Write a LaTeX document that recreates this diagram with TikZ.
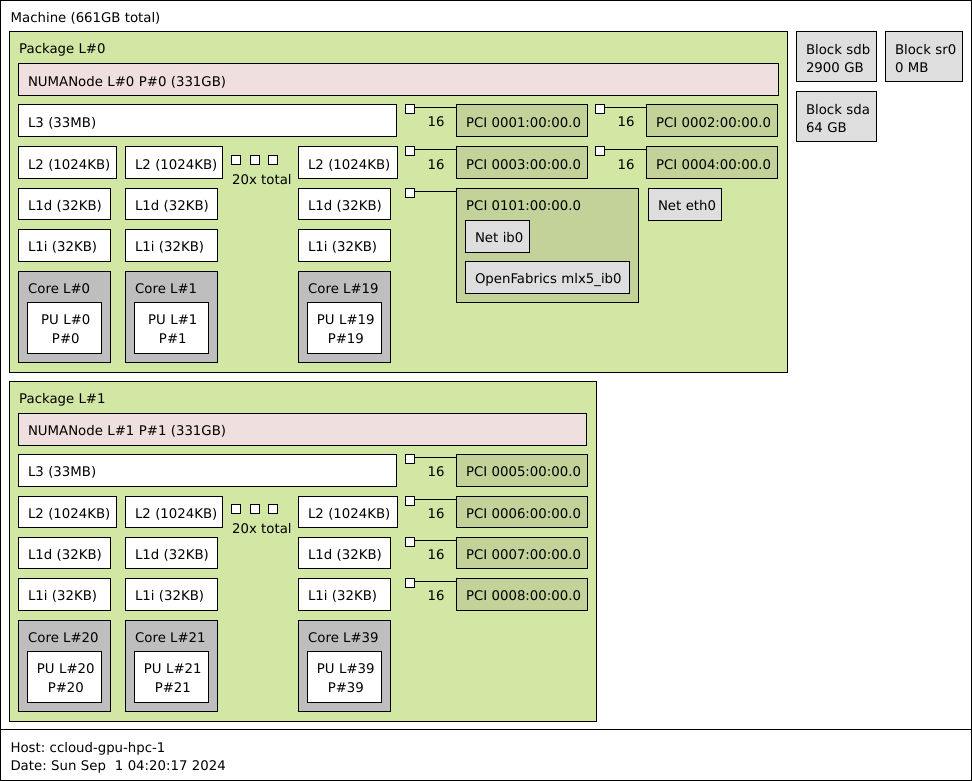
\documentclass[tikz,border=0pt]{standalone}
\usepackage{fontspec}
\setmainfont{DejaVu Sans}
\usetikzlibrary{calc}
\frenchspacing

\definecolor{pkgcol}{HTML}{D2E7A4}
\definecolor{numacol}{HTML}{EFDFDE}
\definecolor{corecol}{HTML}{BEBEBE}
\definecolor{pcicol}{HTML}{C2D298}
\definecolor{oscol}{HTML}{DEDEDE}

\tikzset{
  boxbase/.style={draw=black, line width=1pt, rectangle, inner sep=0pt, outer sep=0pt},
  cont/.style={boxbase},
  leaf/.style={boxbase, inner xsep=0pt, inner ysep=0pt, align=left, fill=white},
  lbl/.style={anchor=base west, inner sep=0pt},
  widthlbl/.style={anchor=base, inner sep=0pt},
  portsq/.style={draw=black, line width=1pt, fill=white, minimum size=9pt, inner sep=0pt, outer sep=0pt},
  link/.style={draw=black, line width=1pt},
}

% box with its text placed 10pt from the left, baseline 22.5pt below the top
\newcommand{\leafnode}[7][]{%
  \pgfmathsetmacro\bxw{#5-#3}%
  \pgfmathsetmacro\bxh{#6-#4}%
  \pgfmathsetmacro\bxd{#6-#4-22.5}%
  \node[leaf,minimum width=\bxw pt,minimum height=\bxh pt,text width=\bxw pt,
        text height=22.5pt,text depth=\bxd pt,#1] (#2) at ({(#3+#5)/2},{(#4+#6)/2}) {\hspace*{10pt}#7};}

% processing unit: two centred lines
\newcommand{\punode}[6]{%
  \pgfmathsetmacro\bxw{#4-#2}%
  \pgfmathsetmacro\bxh{#5-#3}%
  \pgfmathsetmacro\bxd{#5-#3-22.5}%
  \node[leaf,align=center,minimum width=\bxw pt,minimum height=\bxh pt,text width=\bxw pt,
        text height=22.5pt,text depth=\bxd pt] (#1) at ({(#2+#4)/2},{(#3+#5)/2})
        {\hspace*{3.6pt}\begin{tabular}[t]{@{}c@{}}#6\end{tabular}};}

% container box with its title in the top-left corner
\newcommand{\contnode}[7][]{%
  \pgfmathsetmacro\bxw{#5-#3}%
  \pgfmathsetmacro\bxh{#6-#4}%
  \node[cont,minimum width=\bxw pt,minimum height=\bxh pt,#1] (#2) at ({(#3+#5)/2},{(#4+#6)/2}) {};
  \node[lbl] (#2-label) at ({#3+10},{#4+22}) {#7};}

% PCI port square linked to its device box
\newcommand{\pciport}[4]{%
  \node[portsq] (#1) at (#2,{#3+4.5}) {};
  \draw[link] ([yshift=1.5pt]#1.east) -- ([yshift=1.5pt]#1.east -| #4.west);}

\begin{document}
\begin{tikzpicture}[x=1pt,y=-1pt,font=\fontsize{13.3}{18.5}\selectfont]
\useasboundingbox (0,0) rectangle (972,781);

% machine and legend
\contnode[fill=white]{machine}{0.5}{0.5}{971.5}{729.5}{Machine (661GB total)}
\leafnode{legend}{0.5}{729.5}{971.5}{780.5}{\begin{tabular}[t]{@{}l@{}}Host: ccloud-gpu-hpc-1\\Date: Sun Sep\ \ 1 04:20:17 2024\end{tabular}}

% ---------------- Package L#0 ----------------
\contnode[fill=pkgcol]{pkg0}{9}{32}{787}{372}{Package L\#0}
\leafnode[fill=numacol]{numa0}{18}{64}{778}{96}{NUMANode L\#0 P\#0 (331GB)}
\leafnode{l3p0}{18}{105}{396}{137}{L3 (33MB)}

\leafnode{l2c0}{18}{147}{116}{178}{L2 (1024KB)}
\leafnode{l2c1}{125}{147}{222}{178}{L2 (1024KB)}
\leafnode{l2c19}{298}{147}{397}{178}{L2 (1024KB)}
\leafnode{l1dc0}{18}{188}{110}{219}{L1d (32KB)}
\leafnode{l1dc1}{125}{188}{217}{219}{L1d (32KB)}
\leafnode{l1dc19}{298}{188}{390}{219}{L1d (32KB)}
\leafnode{l1ic0}{18}{229}{110}{261}{L1i (32KB)}
\leafnode{l1ic1}{125}{229}{217}{261}{L1i (32KB)}
\leafnode{l1ic19}{298}{229}{390}{261}{L1i (32KB)}

\contnode[fill=corecol]{core0}{18}{271}{110}{362}{Core L\#0}
\punode{pu0}{27}{302}{101}{353}{PU L\#0\\P\#0}
\contnode[fill=corecol]{core1}{125}{271}{217}{362}{Core L\#1}
\punode{pu1}{134}{302}{208}{353}{PU L\#1\\P\#1}
\contnode[fill=corecol]{core19}{298}{271}{390}{362}{Core L\#19}
\punode{pu19}{307}{302}{381}{353}{PU L\#19\\P\#19}

\node[portsq] (dotsp0a) at (236,160) {};
\node[portsq] (dotsp0b) at (254.5,160) {};
\node[portsq] (dotsp0c) at (273,160) {};
\node[lbl] (totalp0) at (232,184) {20x total};

% I/O of package 0
\leafnode[fill=pcicol]{pci1}{456}{105}{587}{137}{PCI 0001:00:00.0}
\leafnode[fill=pcicol]{pci2}{646}{105}{777}{137}{PCI 0002:00:00.0}
\leafnode[fill=pcicol]{pci3}{456}{147}{587}{178}{PCI 0003:00:00.0}
\leafnode[fill=pcicol]{pci4}{646}{147}{777}{178}{PCI 0004:00:00.0}
\contnode[fill=pcicol]{pci0101}{456}{188}{638}{302}{PCI 0101:00:00.0}
\leafnode[fill=oscol]{ib0}{465}{220}{529}{252}{Net ib0}
\leafnode[fill=oscol]{mlx}{465}{261}{629}{293}{OpenFabrics mlx5\_ib0}
\leafnode[fill=oscol]{eth0}{648}{188}{721}{220}{Net eth0}

\pciport{port1}{410}{105}{pci1}
\pciport{port2}{600}{105}{pci2}
\pciport{port3}{410}{147}{pci3}
\pciport{port4}{600}{147}{pci4}
\pciport{port0101}{410}{188}{pci0101}
\node[widthlbl] (w1) at (436,127) {16};
\node[widthlbl] (w2) at (626,127) {16};
\node[widthlbl] (w3) at (436,169) {16};
\node[widthlbl] (w4) at (626,169) {16};

% block devices
\leafnode[fill=oscol]{sdb}{796}{32}{876}{82}{\begin{tabular}[t]{@{}l@{}}Block sdb\\2900 GB\end{tabular}}
\leafnode[fill=oscol]{sr0}{885}{32}{962}{82}{\begin{tabular}[t]{@{}l@{}}Block sr0\\0 MB\end{tabular}}
\leafnode[fill=oscol]{sda}{796}{92}{876}{142}{\begin{tabular}[t]{@{}l@{}}Block sda\\64 GB\end{tabular}}

% ---------------- Package L#1 ----------------
\contnode[fill=pkgcol]{pkg1}{9}{381}{596}{721}{Package L\#1}
\leafnode[fill=numacol]{numa1}{18}{413}{586}{445}{NUMANode L\#1 P\#1 (331GB)}
\leafnode{l3p1}{18}{454}{396}{486}{L3 (33MB)}

\leafnode{l2c20}{18}{496}{116}{527}{L2 (1024KB)}
\leafnode{l2c21}{125}{496}{222}{527}{L2 (1024KB)}
\leafnode{l2c39}{298}{496}{397}{527}{L2 (1024KB)}
\leafnode{l1dc20}{18}{537}{110}{568}{L1d (32KB)}
\leafnode{l1dc21}{125}{537}{217}{568}{L1d (32KB)}
\leafnode{l1dc39}{298}{537}{390}{568}{L1d (32KB)}
\leafnode{l1ic20}{18}{578}{110}{610}{L1i (32KB)}
\leafnode{l1ic21}{125}{578}{217}{610}{L1i (32KB)}
\leafnode{l1ic39}{298}{578}{390}{610}{L1i (32KB)}

\contnode[fill=corecol]{core20}{18}{620}{110}{711}{Core L\#20}
\punode{pu20}{27}{651}{101}{702}{PU L\#20\\P\#20}
\contnode[fill=corecol]{core21}{125}{620}{217}{711}{Core L\#21}
\punode{pu21}{134}{651}{208}{702}{PU L\#21\\P\#21}
\contnode[fill=corecol]{core39}{298}{620}{390}{711}{Core L\#39}
\punode{pu39}{307}{651}{381}{702}{PU L\#39\\P\#39}

\node[portsq] (dotsp1a) at (236,509) {};
\node[portsq] (dotsp1b) at (254.5,509) {};
\node[portsq] (dotsp1c) at (273,509) {};
\node[lbl] (totalp1) at (232,533) {20x total};

% I/O of package 1
\leafnode[fill=pcicol]{pci5}{456}{454}{587}{486}{PCI 0005:00:00.0}
\leafnode[fill=pcicol]{pci6}{456}{496}{587}{527}{PCI 0006:00:00.0}
\leafnode[fill=pcicol]{pci7}{456}{537}{587}{568}{PCI 0007:00:00.0}
\leafnode[fill=pcicol]{pci8}{456}{578}{587}{610}{PCI 0008:00:00.0}
\pciport{port5}{410}{454}{pci5}
\pciport{port6}{410}{496}{pci6}
\pciport{port7}{410}{537}{pci7}
\pciport{port8}{410}{578}{pci8}
\node[widthlbl] (w5) at (436,476) {16};
\node[widthlbl] (w6) at (436,518) {16};
\node[widthlbl] (w7) at (436,559) {16};
\node[widthlbl] (w8) at (436,600) {16};
\end{tikzpicture}
\end{document}
